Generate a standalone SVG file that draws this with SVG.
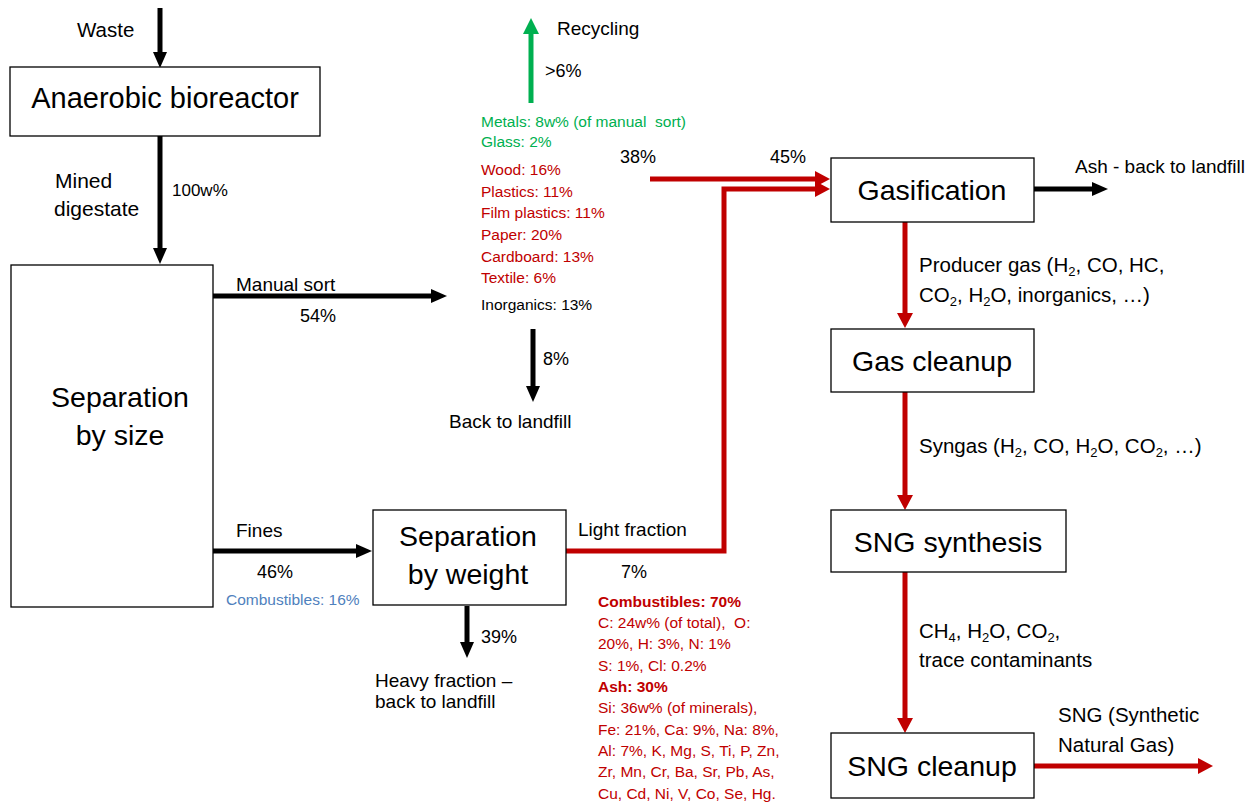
<svg xmlns="http://www.w3.org/2000/svg" width="1259" height="803" viewBox="0 0 1259 803">
<style>
  text { font-family: "Liberation Sans", Arial, sans-serif; fill: #000; }
  .box { fill: #fff; stroke: #000; stroke-width: 1.3; }
  .big { font-size: 28.5px; }
  .lbl { font-size: 19px; }
  .pct { font-size: 18px; }
  .rt { font-size: 20.5px; }
  .sm { font-size: 15.5px; }
  .red { fill: #C00000; }
  .grn { fill: #00B050; }
  .blu { fill: #4F81BD; }
  .b { font-weight: bold; }
  .pre { white-space: pre; }
  .ab { fill: none; stroke: #000; stroke-width: 5; marker-end: url(#hb); }
  .ar { fill: none; stroke: #C00000; stroke-width: 5; stroke-linejoin: miter; marker-end: url(#hr); }
  .ag { fill: none; stroke: #00B050; stroke-width: 5; marker-end: url(#hg); }
</style>
<defs>
  <marker id="hb" markerUnits="userSpaceOnUse" markerWidth="16" markerHeight="14" viewBox="0 0 16 14" refX="6" refY="7" orient="auto">
    <path d="M0,0 L16,7 L0,14 z" fill="#000"/>
  </marker>
  <marker id="hr" markerUnits="userSpaceOnUse" markerWidth="15" markerHeight="16" viewBox="0 0 15 16" refX="5" refY="8" orient="auto">
    <path d="M0,0 L15,8 L0,16 z" fill="#C00000"/>
  </marker>
  <marker id="hg" markerUnits="userSpaceOnUse" markerWidth="16" markerHeight="16" viewBox="0 0 16 16" refX="6" refY="8" orient="auto">
    <path d="M0,0 L16,8 L0,16 z" fill="#00B050"/>
  </marker>
</defs>
<rect width="1259" height="803" fill="#fff"/>

<g id="connectors">
  <line class="ab" x1="160" y1="8" x2="160" y2="58"/>
  <line class="ab" x1="160" y1="136" x2="160" y2="254"/>
  <line class="ab" x1="213" y1="296" x2="437" y2="296"/>
  <line class="ab" x1="533" y1="329" x2="533" y2="392"/>
  <line class="ab" x1="213" y1="551" x2="362" y2="551"/>
  <line class="ab" x1="467" y1="606" x2="467" y2="648"/>
  <line class="ab" x1="1034" y1="189" x2="1098" y2="189"/>
  <line class="ag" x1="531" y1="103" x2="531" y2="28"/>
  <line class="ar" x1="650" y1="179" x2="820" y2="179"/>
  <polyline class="ar" points="566,551 724,551 724,189 820,189"/>
  <line class="ar" x1="905" y1="222" x2="905" y2="318"/>
  <line class="ar" x1="905" y1="392" x2="905" y2="500"/>
  <line class="ar" x1="905" y1="572" x2="905" y2="723"/>
  <line class="ar" x1="1034" y1="766" x2="1203" y2="766"/>
</g>

<g id="anaerobic">
  <rect class="box" x="10" y="67" width="310" height="69"/>
  <text class="big" x="165" y="108" text-anchor="middle" style="font-size:29px">Anaerobic bioreactor</text>
</g>
<g id="sep-size">
  <rect class="box" x="11" y="265" width="202" height="342"/>
  <text class="big" x="120" y="407" text-anchor="middle">Separation</text>
  <text class="big" x="120" y="445" text-anchor="middle">by size</text>
</g>
<g id="sep-weight">
  <rect class="box" x="373" y="510" width="193" height="95"/>
  <text class="big" x="468" y="546" text-anchor="middle">Separation</text>
  <text class="big" x="468" y="584" text-anchor="middle">by weight</text>
</g>
<g id="gasification">
  <rect class="box" x="831" y="158" width="203" height="64"/>
  <text class="big" x="932" y="200" text-anchor="middle">Gasification</text>
</g>
<g id="gas-cleanup">
  <rect class="box" x="831" y="329" width="203" height="63"/>
  <text class="big" x="932" y="371" text-anchor="middle">Gas cleanup</text>
</g>
<g id="sng-synthesis">
  <rect class="box" x="831" y="510" width="235" height="62"/>
  <text class="big" x="948" y="552" text-anchor="middle">SNG synthesis</text>
</g>
<g id="sng-cleanup">
  <rect class="box" x="831" y="733" width="203" height="65"/>
  <text class="big" x="932" y="776" text-anchor="middle">SNG cleanup</text>
</g>

<g id="labels">
  <text class="lbl" x="77" y="37" style="font-size:20.5px">Waste</text>
  <text class="lbl" x="55" y="188" style="font-size:21px">Mined</text>
  <text class="lbl" x="54" y="216" style="font-size:21px">digestate</text>
  <text class="pct" x="172" y="196" style="font-size:17px">100w%</text>
  <text class="lbl" x="236" y="291">Manual sort</text>
  <text class="pct" x="300" y="322">54%</text>
  <text class="lbl" x="236" y="537">Fines</text>
  <text class="pct" x="257" y="578">46%</text>
  <text class="sm blu" x="226" y="605">Combustibles: 16%</text>

  <text class="lbl" x="557" y="35">Recycling</text>
  <text class="pct" x="545" y="77">&gt;6%</text>
  <text class="sm grn pre" x="481" y="127">Metals: 8w% (of manual  sort)</text>
  <text class="sm grn" x="481" y="147">Glass: 2%</text>
  <text class="sm red" x="481" y="175">Wood: 16%</text>
  <text class="sm red" x="481" y="197">Plastics: 11%</text>
  <text class="sm red" x="481" y="218">Film plastics: 11%</text>
  <text class="sm red" x="481" y="240">Paper: 20%</text>
  <text class="sm red" x="481" y="262">Cardboard: 13%</text>
  <text class="sm red" x="481" y="283">Textile: 6%</text>
  <text class="sm" x="481" y="310">Inorganics: 13%</text>
  <text class="pct" x="543" y="365">8%</text>
  <text class="lbl" x="449" y="428">Back to landfill</text>

  <text class="pct" x="620" y="163">38%</text>
  <text class="pct" x="770" y="163">45%</text>
  <text class="lbl" x="578" y="536">Light fraction</text>
  <text class="pct" x="621" y="578">7%</text>
  <text class="pct" x="481" y="643">39%</text>
  <text class="lbl" x="375" y="687">Heavy fraction –</text>
  <text class="lbl" x="375" y="708">back to landfill</text>

  <text class="sm red b" x="598" y="607">Combustibles: 70%</text>
  <text class="sm red pre" x="598" y="628">C: 24w% (of total),  O:</text>
  <text class="sm red" x="598" y="649">20%, H: 3%, N: 1%</text>
  <text class="sm red" x="598" y="671">S: 1%, Cl: 0.2%</text>
  <text class="sm red b" x="598" y="692">Ash: 30%</text>
  <text class="sm red" x="598" y="713">Si: 36w% (of minerals),</text>
  <text class="sm red" x="598" y="735">Fe: 21%, Ca: 9%, Na: 8%,</text>
  <text class="sm red" x="598" y="756">Al: 7%, K, Mg, S, Ti, P, Zn,</text>
  <text class="sm red" x="598" y="777">Zr, Mn, Cr, Ba, Sr, Pb, As,</text>
  <text class="sm red" x="598" y="799">Cu, Cd, Ni, V, Co, Se, Hg.</text>

  <text class="lbl" x="1075" y="173">Ash - back to landfill</text>
  <text class="rt" x="919" y="272">Producer gas (H<tspan font-size="13" dy="4">2</tspan><tspan dy="-4">, CO, HC,</tspan></text>
  <text class="rt" x="919" y="302">CO<tspan font-size="13" dy="4">2</tspan><tspan dy="-4">, H</tspan><tspan font-size="13" dy="4">2</tspan><tspan dy="-4">O, inorganics, …)</tspan></text>
  <text class="rt" x="919" y="453">Syngas (H<tspan font-size="13" dy="4">2</tspan><tspan dy="-4">, CO, H</tspan><tspan font-size="13" dy="4">2</tspan><tspan dy="-4">O, CO</tspan><tspan font-size="13" dy="4">2</tspan><tspan dy="-4">, …)</tspan></text>
  <text class="rt" x="919" y="638">CH<tspan font-size="13" dy="4">4</tspan><tspan dy="-4">, H</tspan><tspan font-size="13" dy="4">2</tspan><tspan dy="-4">O, CO</tspan><tspan font-size="13" dy="4">2</tspan><tspan dy="-4">,</tspan></text>
  <text class="rt" x="919" y="667">trace contaminants</text>
  <text class="rt" x="1058" y="722">SNG (Synthetic</text>
  <text class="rt" x="1058" y="752">Natural Gas)</text>
</g>
</svg>
